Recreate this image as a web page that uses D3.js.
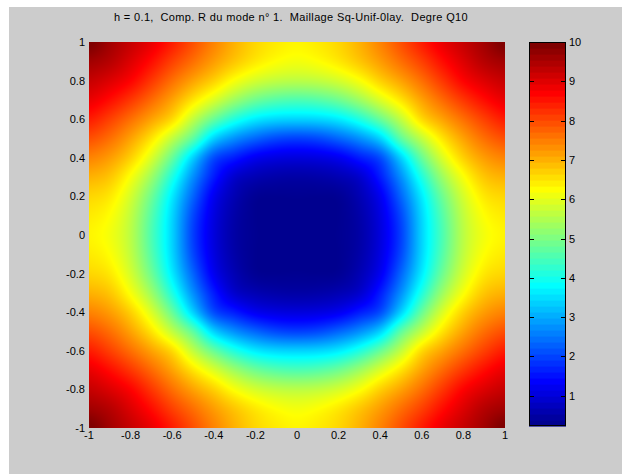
<!DOCTYPE html>
<html><head><meta charset="utf-8">
<script src="https://cdn.jsdelivr.net/npm/d3@7"></script>
<style>
body{margin:0;background:#fff}
svg{display:block}
text{font-family:"Liberation Sans",Arial,Helvetica,sans-serif;fill:#000}
</style>
</head><body>
<svg id="chart" width="622" height="474"></svg>
<script>
// ---------------- data ----------------
const titleText = "h = 0.1,  Comp. R du mode n° 1.  Maillage Sq-Unif-0lay.  Degre Q10";
const xGrid = [-1,-0.9,-0.8,-0.7,-0.6,-0.5,-0.4,-0.3,-0.2,-0.1,0,0.1,0.2,0.3,0.4,0.5,0.6,0.7,0.8,0.9,1];
const yGrid = [1,0.9,0.8,0.7,0.6,0.5,0.4,0.3,0.2,0.1,0,-0.1,-0.2,-0.3,-0.4,-0.5,-0.6,-0.7,-0.8,-0.9,-1];
// field values, one row per yGrid entry (top to bottom), one column per xGrid entry
const fieldValues = [
 [10,9.6,9.25,8.9,8.45,7.95,7.45,7.0,6.65,6.45,6.35,6.45,6.65,7.0,7.45,7.95,8.45,8.9,9.25,9.6,10],
 [9.6,9.4,9.03,8.6,8.1,7.65,7.2,6.8,6.47,6.25,6.15,6.25,6.47,6.8,7.2,7.65,8.1,8.6,9.03,9.4,9.6],
 [9.25,9.03,8.7,8.19,7.65,7.15,6.7,6.2,5.85,5.66,5.6,5.66,5.85,6.2,6.7,7.15,7.65,8.19,8.7,9.03,9.25],
 [8.9,8.6,8.19,7.7,7.15,6.51,5.91,5.32,4.87,4.63,4.55,4.63,4.87,5.32,5.91,6.51,7.15,7.7,8.19,8.6,8.9],
 [8.45,8.1,7.65,7.15,6.6,5.67,4.8,4.1,3.64,3.44,3.4,3.44,3.64,4.1,4.8,5.67,6.6,7.15,7.65,8.1,8.45],
 [7.95,7.65,7.15,6.51,5.67,4.7,3.4,2.75,2.34,2.06,1.97,2.06,2.34,2.75,3.4,4.7,5.67,6.51,7.15,7.65,7.95],
 [7.45,7.2,6.7,5.91,4.8,3.4,2.1,1.62,1.24,1.09,1.05,1.09,1.24,1.62,2.1,3.4,4.8,5.91,6.7,7.2,7.45],
 [7.0,6.8,6.2,5.32,4.1,2.75,1.62,0.9,0.65,0.55,0.52,0.55,0.65,0.9,1.62,2.75,4.1,5.32,6.2,6.8,7.0],
 [6.65,6.47,5.85,4.87,3.64,2.34,1.24,0.65,0.36,0.32,0.33,0.32,0.36,0.65,1.24,2.34,3.64,4.87,5.85,6.47,6.65],
 [6.45,6.25,5.66,4.63,3.44,2.06,1.09,0.55,0.32,0.24,0.25,0.24,0.32,0.55,1.09,2.06,3.44,4.63,5.66,6.25,6.45],
 [6.35,6.15,5.6,4.55,3.4,1.97,1.05,0.52,0.33,0.25,0.23,0.25,0.33,0.52,1.05,1.97,3.4,4.55,5.6,6.15,6.35],
 [6.45,6.25,5.66,4.63,3.44,2.06,1.09,0.55,0.32,0.24,0.25,0.24,0.32,0.55,1.09,2.06,3.44,4.63,5.66,6.25,6.45],
 [6.65,6.47,5.85,4.87,3.64,2.34,1.24,0.65,0.36,0.32,0.33,0.32,0.36,0.65,1.24,2.34,3.64,4.87,5.85,6.47,6.65],
 [7.0,6.8,6.2,5.32,4.1,2.75,1.62,0.9,0.65,0.55,0.52,0.55,0.65,0.9,1.62,2.75,4.1,5.32,6.2,6.8,7.0],
 [7.45,7.2,6.7,5.91,4.8,3.4,2.1,1.62,1.24,1.09,1.05,1.09,1.24,1.62,2.1,3.4,4.8,5.91,6.7,7.2,7.45],
 [7.95,7.65,7.15,6.51,5.67,4.7,3.4,2.75,2.34,2.06,1.97,2.06,2.34,2.75,3.4,4.7,5.67,6.51,7.15,7.65,7.95],
 [8.45,8.1,7.65,7.15,6.6,5.67,4.8,4.1,3.64,3.44,3.4,3.44,3.64,4.1,4.8,5.67,6.6,7.15,7.65,8.1,8.45],
 [8.9,8.6,8.19,7.7,7.15,6.51,5.91,5.32,4.87,4.63,4.55,4.63,4.87,5.32,5.91,6.51,7.15,7.7,8.19,8.6,8.9],
 [9.25,9.03,8.7,8.19,7.65,7.15,6.7,6.2,5.85,5.66,5.6,5.66,5.85,6.2,6.7,7.15,7.65,8.19,8.7,9.03,9.25],
 [9.6,9.4,9.03,8.6,8.1,7.65,7.2,6.8,6.47,6.25,6.15,6.25,6.47,6.8,7.2,7.65,8.1,8.6,9.03,9.4,9.6],
 [10,9.6,9.25,8.9,8.45,7.95,7.45,7.0,6.65,6.45,6.35,6.45,6.65,7.0,7.45,7.95,8.45,8.9,9.25,9.6,10]
];
const xTicks = [-1,-0.8,-0.6,-0.4,-0.2,0,0.2,0.4,0.6,0.8,1];
const yTicks = [-1,-0.8,-0.6,-0.4,-0.2,0,0.2,0.4,0.6,0.8,1];
const colorTicks = [1,2,3,4,5,6,7,8,9,10];
const colorLimits = [0.23, 10];

// ---------------- layout / style ----------------
const W = 622, H = 474;
const plot = {left: 89, right: 505, top: 42, bottom: 428};
const cbar = {left: 529, right: 566, top: 42, bottom: 426};
const bg = "#cccccc";

// MATLAB jet(64)
function jetColors(m) {
  const n = Math.ceil(m / 4);
  const u = [];
  for (let i = 1; i <= n; i++) u.push(i / n);
  for (let i = 1; i < n; i++) u.push(1);
  for (let i = n; i >= 1; i--) u.push(i / n);
  const off = Math.ceil(n / 2) - (m % 4 === 1 ? 1 : 0);
  const r = new Array(m).fill(0), g = new Array(m).fill(0), b = new Array(m).fill(0);
  u.forEach((v, k) => {
    const gi = off + k + 1, ri = gi + n, bi = gi - n;
    if (gi >= 1 && gi <= m) g[gi - 1] = v;
    if (ri >= 1 && ri <= m) r[ri - 1] = v;
    if (bi >= 1 && bi <= m) b[bi - 1] = v;
  });
  return d3.range(m).map(i => d3.rgb(r[i] * 255, g[i] * 255, b[i] * 255));
}
const jet = jetColors(64);
// smooth version for the interpolated surface
const colorSmooth = d3.scaleLinear()
  .domain(d3.range(jet.length).map(i => colorLimits[0] + (i + 0.5) * (colorLimits[1] - colorLimits[0]) / jet.length))
  .range(jet.map(c => c.formatRgb()))
  .interpolate(d3.interpolateRgb)
  .clamp(true);

const svg = d3.select("#chart");
svg.append("rect").attr("x", 9).attr("y", 7).attr("width", W - 9).attr("height", H - 7).attr("fill", bg);

const x = d3.scaleLinear().domain([-1, 1]).range([plot.left, plot.right]);
const y = d3.scaleLinear().domain([-1, 1]).range([plot.bottom, plot.top]);
const gx = d3.scaleLinear().domain([xGrid[0], xGrid[xGrid.length - 1]]).range([0, xGrid.length - 1]);
const gy = d3.scaleLinear().domain([yGrid[0], yGrid[yGrid.length - 1]]).range([0, yGrid.length - 1]);

// bicubic (Catmull-Rom) shading of the grid, like "shading interp"
const nr = fieldValues.length, nc = fieldValues[0].length;
function val(j, i) {
  j = Math.max(0, Math.min(nr - 1, j));
  i = Math.max(0, Math.min(nc - 1, i));
  return fieldValues[j][i];
}
function cr(p0, p1, p2, p3, t) {
  return 0.5 * ((2 * p1) + (-p0 + p2) * t + (2 * p0 - 5 * p1 + 4 * p2 - p3) * t * t + (-p0 + 3 * p1 - 3 * p2 + p3) * t * t * t);
}
function sample(fx, fy) {
  const i = Math.floor(fx), j = Math.floor(fy);
  const tx = fx - i, ty = fy - j;
  const rows = [];
  for (let k = -1; k <= 2; k++) {
    rows.push(cr(val(j + k, i - 1), val(j + k, i), val(j + k, i + 1), val(j + k, i + 2), tx));
  }
  return cr(rows[0], rows[1], rows[2], rows[3], ty);
}

const pw = plot.right - plot.left, ph = plot.bottom - plot.top;
const canvas = document.createElement("canvas");
canvas.width = pw; canvas.height = ph;
const ctx = canvas.getContext("2d");
const img = ctx.createImageData(pw, ph);
for (let py = 0; py < ph; py++) {
  const fy = Math.max(0, Math.min(nr - 1, gy(y.invert(plot.top + py + 0.5))));
  for (let px = 0; px < pw; px++) {
    const fx = Math.max(0, Math.min(nc - 1, gx(x.invert(plot.left + px + 0.5))));
    let v = sample(fx, fy);
    v = Math.max(colorLimits[0], Math.min(colorLimits[1], v));
    const c = d3.rgb(colorSmooth(v));
    const o = (py * pw + px) * 4;
    img.data[o] = c.r; img.data[o + 1] = c.g; img.data[o + 2] = c.b; img.data[o + 3] = 255;
  }
}
ctx.putImageData(img, 0, 0);
svg.append("image")
  .attr("x", x(-1)).attr("y", y(1))
  .attr("width", x(1) - x(-1)).attr("height", y(-1) - y(1))
  .attr("preserveAspectRatio", "none")
  .attr("href", canvas.toDataURL());

const fmt = v => String(+v.toFixed(1));

// x tick labels
svg.append("g").selectAll("text").data(xTicks).join("text")
  .attr("x", d => x(d)).attr("y", plot.bottom + 11)
  .attr("text-anchor", "middle").attr("font-size", 11)
  .text(fmt);
// y tick labels
svg.append("g").selectAll("text").data(yTicks).join("text")
  .attr("x", plot.left - 4).attr("y", d => y(d) + 4)
  .attr("text-anchor", "end").attr("font-size", 11)
  .text(fmt);

// title
svg.append("text").attr("x", 291).attr("y", 20.5)
  .attr("text-anchor", "middle").attr("font-size", 11)
  .attr("letter-spacing", 0.35)
  .style("white-space", "pre")
  .text(titleText);

// colorbar
const cy = d3.scaleLinear().domain(colorLimits).range([cbar.bottom, cbar.top]);
const step = (colorLimits[1] - colorLimits[0]) / jet.length;
svg.append("g").selectAll("rect").data(jet).join("rect")
  .attr("x", cbar.left).attr("width", cbar.right - cbar.left)
  .attr("y", (d, i) => cy(colorLimits[0] + (i + 1) * step))
  .attr("height", (d, i) => cy(colorLimits[0] + i * step) - cy(colorLimits[0] + (i + 1) * step) + 0.6)
  .attr("fill", d => d);
svg.append("rect").attr("x", cbar.left + 0.5).attr("y", cbar.top + 0.5)
  .attr("width", cbar.right - cbar.left - 1).attr("height", cbar.bottom - cbar.top - 1)
  .attr("fill", "none").attr("stroke", "#000").attr("stroke-width", 1);
const cbTickG = svg.append("g").selectAll("g").data(colorTicks).join("g");
cbTickG.append("line")
  .attr("x1", cbar.left).attr("x2", cbar.left + 5)
  .attr("y1", d => Math.round(cy(d)) + 0.5).attr("y2", d => Math.round(cy(d)) + 0.5)
  .attr("stroke", "#000");
cbTickG.append("line")
  .attr("x1", cbar.right - 5).attr("x2", cbar.right)
  .attr("y1", d => Math.round(cy(d)) + 0.5).attr("y2", d => Math.round(cy(d)) + 0.5)
  .attr("stroke", "#000");
cbTickG.append("text")
  .attr("x", cbar.right + 3).attr("y", d => cy(d) + 4)
  .attr("font-size", 11)
  .text(d => String(d));
</script>
</body></html>
